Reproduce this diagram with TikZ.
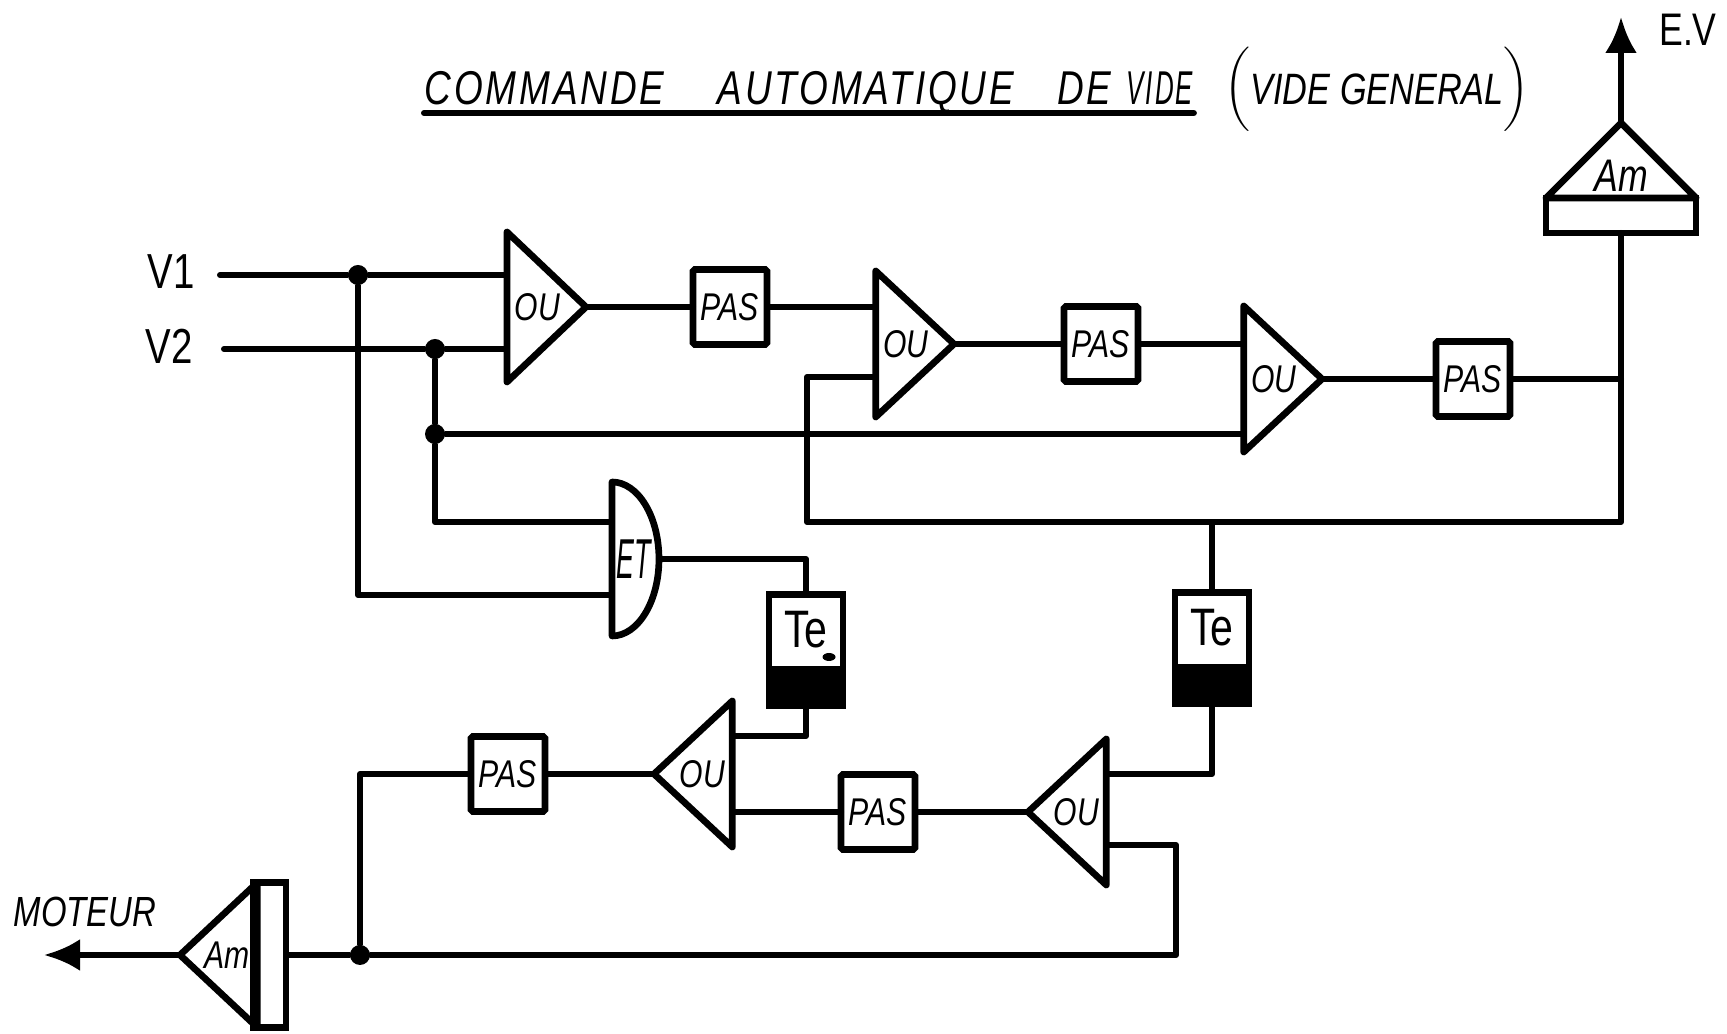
\documentclass[tikz,border=0pt]{standalone}
\usepackage{fontspec}
\setmainfont{Liberation Sans}[FakeStretch=0.78]
\newfontfamily\titlefont{Liberation Sans}[FakeStretch=0.78, LetterSpace=6]
\usetikzlibrary{
  arrows.meta, shapes.geometric, shapes.multipart, calc
}
\begin{document}
\begin{tikzpicture}[
  wire/.style={line width=1.7pt, line join=round, line cap=round},
  arr/.style={wire, -{Latex[length=0.36cm, width=0.32cm]}},
  tri/.style={draw, line width=1.9pt, line join=round, isosceles triangle,
              isosceles triangle stretches, shape border rotate=#1,
              minimum width=1.46cm, minimum height=0.74cm, inner sep=0pt, outer sep=0pt,
              anchor=apex, font=\fontsize{11}{11}\selectfont\itshape},
  pasbox/.style={draw, line width=1.9pt, rounded corners=0.5pt, minimum width=0.74cm,
                 minimum height=0.75cm, inner sep=0pt, outer sep=0pt,
                 font=\fontsize{11}{11}\selectfont\itshape},
  tebox/.style={draw, line width=1.9pt, rectangle split, rectangle split parts=2,
                rectangle split part fill={white,black}, minimum width=0.74cm,
                inner xsep=0pt, inner ysep=0pt, outer sep=0pt,
                font=\fontsize{15}{15}\selectfont},
  ampbox/.style={draw, line width=1.9pt, inner sep=0pt, outer sep=0pt},
  jdot/.style={circle, fill=black, inner sep=0pt, minimum size=0.2cm},
  txt/.style={font=\fontsize{#1}{#1}\selectfont\itshape, inner sep=0pt},
  lab/.style={font=\fontsize{#1}{#1}\selectfont, inner sep=0pt}
]
\useasboundingbox (0,0) rectangle (17.27,10.34);

% Title
\node[txt=13.5, anchor=base west] (title) at (4.24,9.29)
  {\titlefont\itshape COMMANDE\hspace{0.4cm} AUTOMATIQUE\hspace{0.3cm} DE\hspace{0.02cm} \scalebox{0.7}[1]{VIDE}};
\node[txt=12.5, anchor=base west] (titleb) at (12.24,9.29)
  {\raisebox{1.5pt}{$\bigg($}VIDE GENERAL\raisebox{1.5pt}{$\bigg)$}};
\draw[wire] ($(title.base west)+(0,-0.08)$)--($(title.base east)+(0,-0.08)$);

% Inputs and outputs
\node[lab=14] (v1lab) at (1.71,7.62) {V1};
\node[lab=14] (v2lab) at (1.69,6.88) {V2};
\node[txt=12] (motlab) at (0.85,1.22) {MOTEUR};
\node[lab=13] (evlab) at (16.88,10.04) {E.V};
\coordinate (v1) at (2.20,7.59);
\coordinate (v2) at (2.24,6.85);
\coordinate (evend) at (16.21,10.17);
\coordinate (motend) at (0.44,0.79);

% Junctions
\node[jdot] (j1) at (3.58,7.59) {};
\node[jdot] (j2) at (4.35,6.85) {};
\node[jdot] (j3) at (4.35,6.00) {};
\node[jdot] (j4) at (3.60,0.79) {};

% OU gates
\node[tri=0, minimum width=1.50cm, minimum height=0.79cm] (ou1) at (5.86,7.27) {OU};
\node[tri=0] (ou2) at (9.54,6.90) {OU};
\node[tri=0] (ou3) at (13.22,6.55) {OU};
\node[tri=180] (ou4) at (6.54,2.60) {OU};
\node[tri=180] (ou5) at (10.28,2.22) {OU};

% PAS boxes
\node[pasbox] (pas1) at (7.30,7.27) {PAS};
\node[pasbox] (pas2) at (11.01,6.90) {PAS};
\node[pasbox] (pas3) at (14.73,6.55) {PAS};
\node[pasbox] (pas4) at (5.08,2.60) {PAS};
\node[pasbox] (pas5) at (8.78,2.22) {PAS};

% ET gate
\node[draw, line width=1.9pt, line join=round, semicircle, rotate=-90, yscale=0.61, transform shape,
      minimum width=1.54cm, inner sep=0pt, outer sep=0pt,
      anchor=chord center, font=\fontsize{16}{16}\selectfont\itshape] (et) at (6.12,4.75) {\rotatebox{90}{ET}};
\coordinate (etin1) at (6.12,5.12);
\coordinate (etin2) at (6.12,4.39);

% Te boxes
\node[tebox] (te1) at (8.06,3.84)
  {\rule[-0.18cm]{0pt}{0.68cm}Te\nodepart{two}\rule{0pt}{0.30cm}};
\node[tebox] (te2) at (12.12,3.86)
  {\rule[-0.18cm]{0pt}{0.68cm}Te\nodepart{two}\rule{0pt}{0.30cm}};
\node[ellipse, fill=black, inner sep=0pt, minimum width=0.13cm, minimum height=0.08cm] (tedot) at (8.29,3.77) {};

% Am amplifiers
\node[tri=90, isosceles triangle stretches=false, isosceles triangle apex angle=90,
      minimum width=1.50cm, minimum height=0cm, font=\fontsize{13}{13}\selectfont\itshape] (am1) at (16.21,9.11) {Am};
\node[ampbox, minimum width=1.50cm, minimum height=0.35cm] (box1) at (16.21,8.185) {};
\node[tri=180, minimum width=1.45cm, minimum height=0.68cm] (am2) at (1.80,0.79) {Am};
\node[ampbox, minimum width=0.33cm, minimum height=1.45cm] (box2) at (2.695,0.79) {};

% Bus and gate inputs
\coordinate (busl) at (8.07,5.12);
\coordinate (ou2in) at (ou2.lower side |- 0,6.57);
\coordinate (ou3in) at (ou3.lower side |- 0,6.00);
\coordinate (ou4in) at (ou4.lower side |- 0,2.98);
\coordinate (ou5ina) at (ou5.lower side |- 0,2.60);
\coordinate (ou5inb) at (ou5.lower side |- 0,1.89);
\coordinate (ret) at (11.76,1.89);

% Connections
\draw[wire] (v1)--(j1)--(j1 -| ou1.lower side);
\draw[wire] (v2)--(j2)--(j2 -| ou1.lower side);
\draw[wire] (j1) |- (etin2);
\draw[wire] (j2)--(j3) |- (etin1);
\draw[wire] (j3)--(ou3in);
\draw[wire] (ou1.apex)--(pas1);
\draw[wire] (pas1)--(pas1 -| ou2.lower side);
\draw[wire] (ou2.apex)--(pas2);
\draw[wire] (pas2)--(pas2 -| ou3.lower side);
\draw[wire] (ou3.apex)--(pas3);
\draw[wire] (pas3)--(pas3 -| box1.south);
\draw[wire] (box1.south) |- (busl) |- (ou2in);
\draw[wire] (te2.north)--(te2.north |- busl);
\draw[wire] (te2.south) |- (ou5ina);
\draw[wire] (et.apex) -| (te1.north);
\draw[wire] (te1.south) |- (ou4in);
\draw[wire] (ou5.apex)--(pas5);
\draw[wire] (pas5)--(pas5 -| ou4.lower side);
\draw[wire] (ou4.apex)--(pas4);
\draw[wire] (pas4) -| (j4);
\draw[wire] (box2)--(j4) -| (ret)--(ou5inb);
\draw[arr] (am1.apex)--(evend);
\draw[arr] (am2.apex)--(motend);
\end{tikzpicture}
\end{document}
